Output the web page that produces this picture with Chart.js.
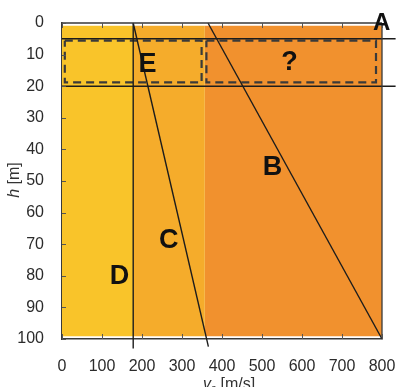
<!DOCTYPE html>
<html>
<head>
<meta charset="utf-8">
<script src="https://cdn.jsdelivr.net/npm/chart.js@4.4.0/dist/chart.umd.min.js"></script>
<style>
  html, body { margin: 0; padding: 0; background: #fff; }
  #wrap { width: 396px; height: 387px; }
</style>
</head>
<body>
<div id="wrap"><canvas id="vs-chart"></canvas></div>
<script>
/*==== data ====*/
// layers: v_s borders and their depth extent
const zoneEdges = [0, 178, 357, 800];
const zoneTop = 0.9, zoneBottom = 99.1;

// profile lines (v_s, h)
const lineD_v = [178, 178], lineD_h = [0, 103];
const lineC_v = [178, 366], lineC_h = [0, 102.4];
const lineB_v = [365, 800], lineB_h = [0, 100];

// depth boundaries drawn across the whole width
const layerDepths = [5, 20];
const layerSpan = [0, 834];

// dashed boxes
const boxE_v = [7, 349], boxE_h = [5.6, 18.8];
const boxQ_v = [361, 785], boxQ_h = [5.6, 18.8];

// letters
const markText = ['A', 'B', 'C', 'D', 'E', '?'];
const markV = [799, 526, 267, 144, 214, 569];
const markH = [0, 45.6, 68.9, 80.3, 13.1, 12.5];

// ticks
const xTicks = [0, 100, 200, 300, 400, 500, 600, 700, 800];
const yTicks = [0, 10, 20, 30, 40, 50, 60, 70, 80, 90, 100];

/*==== helpers ====*/
const zoneColors = ['rgb(249,196,42)', 'rgb(245,172,43)', 'rgb(241,145,46)'];
const FONT = '"Liberation Sans", Arial, sans-serif';

function pts(vs, hs) {
    return vs.map(function (v, i) { return { x: v, y: hs[i] }; });
}
function rect(v, h) {
    return [
        { x: v[0], y: h[0] }, { x: v[1], y: h[0] },
        { x: v[1], y: h[1] }, { x: v[0], y: h[1] }, { x: v[0], y: h[0] }
    ];
}

var datasets = [];
// solid lines on top
[[lineD_v, lineD_h], [lineC_v, lineC_h], [lineB_v, lineB_h]].forEach(function (l) {
    datasets.push({
        data: pts(l[0], l[1]), showLine: true, pointRadius: 0,
        borderColor: '#1c1c1c', borderWidth: 1.4, clip: false, order: 1
    });
});
layerDepths.forEach(function (d) {
    datasets.push({
        data: pts(layerSpan, [d, d]), showLine: true, pointRadius: 0,
        borderColor: '#1c1c1c', borderWidth: 1.4, clip: false, order: 1
    });
});
// dashed boxes
[[boxE_v, boxE_h], [boxQ_v, boxQ_h]].forEach(function (b) {
    datasets.push({
        data: rect(b[0], b[1]), showLine: true, pointRadius: 0,
        borderColor: '#3a3a3a', borderWidth: 2.2, borderDash: [8, 5], order: 2
    });
});
// coloured layers at the back
for (var i = 0; i < zoneEdges.length - 1; i++) {
    datasets.push({
        data: rect([zoneEdges[i], zoneEdges[i + 1]], [zoneTop, zoneBottom]),
        showLine: true, pointRadius: 0, borderWidth: 0, borderColor: 'rgba(0,0,0,0)',
        backgroundColor: zoneColors[i], fill: 'shape', order: 10
    });
}

/*==== overlay: frame, inner ticks, letters, axis titles ====*/
const overlay = {
    id: 'overlay',
    afterDatasetsDraw: function (chart) {
        const ctx = chart.ctx, xs = chart.scales.x, ys = chart.scales.y, a = chart.chartArea;
        ctx.save();
        ctx.strokeStyle = '#3a3a3a';
        ctx.lineWidth = 1.3;
        ctx.beginPath();
        ctx.moveTo(a.left, a.top); ctx.lineTo(a.right, a.top);
        ctx.moveTo(a.right, a.top); ctx.lineTo(a.right, a.bottom);
        ctx.stroke();

        ctx.lineWidth = 1;
        ctx.strokeStyle = '#555';
        ctx.beginPath();
        xTicks.forEach(function (v) {
            const px = Math.round(xs.getPixelForValue(v)) + 0.5;
            ctx.moveTo(px, a.top); ctx.lineTo(px, a.top + 5);
            ctx.moveTo(px, a.bottom); ctx.lineTo(px, a.bottom - 5);
        });
        yTicks.forEach(function (h) {
            const py = Math.round(ys.getPixelForValue(h)) + 0.5;
            ctx.moveTo(a.left, py); ctx.lineTo(a.left + 4, py);
        });
        ctx.stroke();

        ctx.fillStyle = '#111';
        ctx.textAlign = 'center';
        ctx.textBaseline = 'middle';
        markText.forEach(function (t, i) {
            ctx.font = 'bold ' + (t === 'A' ? 24 : 27) + 'px ' + FONT;
            ctx.fillText(t, xs.getPixelForValue(markV[i]), ys.getPixelForValue(markH[i]));
        });

        // y title: h [m]
        ctx.fillStyle = '#333';
        ctx.save();
        ctx.translate(19, 180);
        ctx.rotate(-Math.PI / 2);
        ctx.textAlign = 'left';
        ctx.textBaseline = 'alphabetic';
        ctx.font = 'italic 16px ' + FONT;
        var w1 = ctx.measureText('h').width;
        ctx.font = '16px ' + FONT;
        var w2 = ctx.measureText(' [m]').width;
        var x0 = -(w1 + w2) / 2;
        ctx.font = 'italic 16px ' + FONT;
        ctx.fillText('h', x0, 0);
        ctx.font = '16px ' + FONT;
        ctx.fillText(' [m]', x0 + w1, 0);
        ctx.restore();

        // x title: v_s [m/s]
        ctx.textAlign = 'left';
        ctx.textBaseline = 'alphabetic';
        var bx = 203, by = 389;
        ctx.font = 'italic 16px ' + FONT;
        ctx.fillText('v', bx, by);
        bx += ctx.measureText('v').width;
        ctx.font = 'italic 10px ' + FONT;
        ctx.fillText('s', bx, by + 3);
        bx += ctx.measureText('s').width;
        ctx.font = '16px ' + FONT;
        ctx.fillText(' [m/s]', bx, by);
        ctx.restore();
    }
};

/*==== config ====*/
const config = {
    type: 'scatter',
    data: { datasets: datasets },
    options: {
        responsive: true,
        maintainAspectRatio: false,
        animation: false,
        layout: { autoPadding: false, padding: { top: 23, right: 14, left: 0, bottom: 0 } },
        plugins: { legend: { display: false }, tooltip: { enabled: false } },
        scales: {
            x: {
                type: 'linear', min: 0, max: 800,
                afterFit: function (s) { s.height = 48; s.paddingLeft = 0; s.paddingRight = 0; },
                afterBuildTicks: function (s) { s.ticks = xTicks.map(function (v) { return { value: v }; }); },
                grid: { display: false },
                border: { display: true, color: '#3a3a3a', width: 1.5 },
                ticks: { color: '#2b2b2b', padding: 10, maxRotation: 0, font: { family: FONT, size: 16 } }
            },
            y: {
                type: 'linear', min: 0, max: 100, reverse: true,
                afterFit: function (s) { s.width = 62; s.paddingTop = 0; s.paddingBottom = 0; },
                afterBuildTicks: function (s) { s.ticks = yTicks.map(function (v) { return { value: v }; }); },
                grid: { display: false },
                border: { display: true, color: '#3a3a3a', width: 1.5 },
                ticks: { color: '#2b2b2b', padding: 10, font: { family: FONT, size: 16 } }
            }
        }
    },
    plugins: [overlay]
};

/*===== render =====*/
var vsChart = new Chart(document.getElementById('vs-chart'), config);
</script>
</body>
</html>
